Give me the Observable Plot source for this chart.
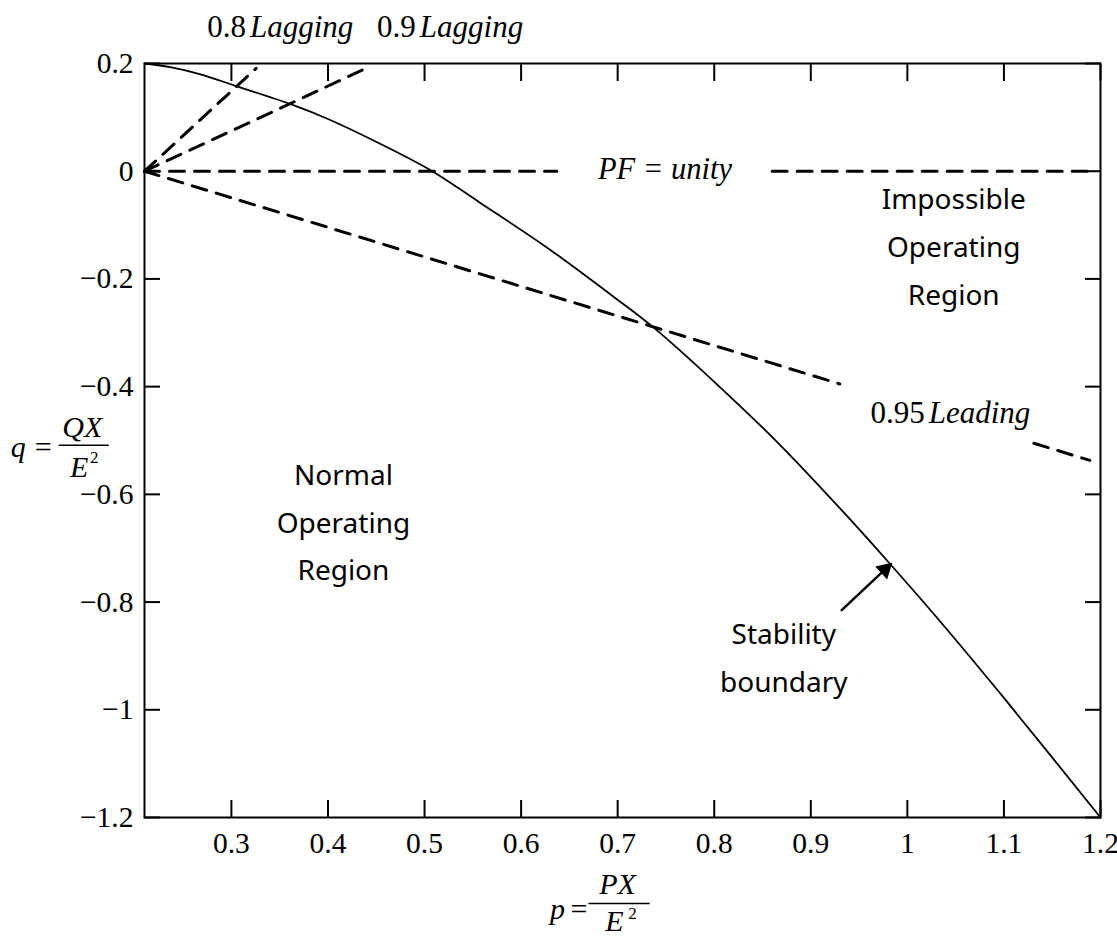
<!DOCTYPE html>
<html><head><meta charset="utf-8">
<script src="https://cdn.jsdelivr.net/npm/d3@7"></script>
<script src="https://cdn.jsdelivr.net/npm/@observablehq/plot@0.6"></script>
<style>body{margin:0;background:#fff}</style>
</head><body><div id="chart"></div>
<script>
// Stability boundary (p, q)
const boundaryP = [0.21, 0.238, 0.268, 0.305, 0.362, 0.40, 0.454, 0.508, 0.557, 0.627, 0.695, 0.737, 0.80, 0.868, 0.94, 0.981, 1.034, 1.10, 1.20];
const boundaryQ = [0.20, 0.193, 0.180, 0.158, 0.124, 0.097, 0.051, 0.000, -0.058, -0.142, -0.232, -0.290, -0.391, -0.508, -0.645, -0.727, -0.836, -0.978, -1.20];

// Power-factor lines (segments, dashed)
const lag08P = [0.21, 0.3256], lag08Q = [0, 0.191];
const lag09P = [0.21, 0.4395], lag09Q = [0, 0.191];
const unity1P = [0.21, 0.637], unity2P = [0.86, 1.19], unityQ = [0, 0];
const lead1P = [0.21, 0.930], lead1Q = [0, -0.395];
const lead2P = [1.131, 1.189], lead2Q = [-0.505, -0.537];

// Tick values
const ticksX = [0.3, 0.4, 0.5, 0.6, 0.7, 0.8, 0.9, 1.0, 1.1, 1.2];
const ticksY = [0.2, 0, -0.2, -0.4, -0.6, -0.8, -1.0, -1.2];

// Power factor labels
const pfNum = ["0.8", "0.9", "0.95"];
const pfWord = ["Lagging", "Lagging", "Leading"];
const pfLabelP = [0.315, 0.491, 1.018];
const pfLabelQ = [0.268, 0.268, -0.450];

// Region labels
const regionText = ["Normal\nOperating\nRegion", "Impossible\nOperating\nRegion", "Stability\nboundary"];
const regionP = [0.416, 1.048, 0.872];
const regionQ = [-0.643, -0.131, -0.894];

// PF = unity label
const unityText = ["PF = unity"], unityLabelP = [0.749], unityLabelQ = [0.004];

// Arrow to boundary
const arrowP = [0.932, 0.9767], arrowQ = [-0.815, -0.7396];
const arrowHeadP = [0.9767], arrowHeadQ = [-0.7396], arrowHeadRotate = [47];

// Axis titles (fraction pieces)
const yTitleText = ["q", "=", "QX", "E"], yTitleItalic = [true, false, true, true];
const yTitleP = [0.0792, 0.1051, 0.1455, 0.1424], yTitleQ = [-0.5128, -0.5128, -0.4756, -0.550];
const yFracP = [0.1217, 0.1725], yFracQ = [-0.509, -0.509];
const ySupP = [0.158], ySupQ = [-0.531];

const xTitleText = ["p", "=", "PX", "E"], xTitleItalic = [true, false, true, true];
const xTitleP = [0.6378, 0.660, 0.6998, 0.6967], xTitleQ = [-1.3710, -1.3710, -1.3246, -1.3933];
const xFracP = [0.6704, 0.7325], xFracQ = [-1.3599, -1.3599];
const xSupP = [0.7154], xSupQ = [-1.3785];

const zip = (ps, qs) => ps.map((p, i) => ({p, q: qs[i]}));
const fmt = d => { const s = String(+(+d).toFixed(1)); return s.replace("-", "\u2212"); };
const serif = "Liberation Serif, Times New Roman, serif";
const sans = "Noto Sans, Lato, sans-serif";
const dash = "15,10";

const boundary = zip(boundaryP, boundaryQ);
const pfLabels = pfNum.map((n, i) => ({num: n, word: pfWord[i], p: pfLabelP[i], q: pfLabelQ[i]}));
const regions = regionText.map((t, i) => ({t, p: regionP[i], q: regionQ[i]}));
const yTitle = yTitleText.map((t, i) => ({t, it: yTitleItalic[i], p: yTitleP[i], q: yTitleQ[i]}));
const xTitle = xTitleText.map((t, i) => ({t, it: xTitleItalic[i], p: xTitleP[i], q: xTitleQ[i]}));

const dashed = (ps, qs) => Plot.line(zip(ps, qs), {x: "p", y: "q", stroke: "black", strokeWidth: 3, strokeDasharray: dash});

const chart = Plot.plot({
  width: 1117, height: 942,
  marginLeft: 144, marginRight: 17, marginTop: 63, marginBottom: 125,
  x: {domain: [0.21, 1.2], label: null},
  y: {domain: [-1.2, 0.2], label: null},
  style: {fontFamily: serif, fontSize: "29px", background: "white", color: "black", overflow: "visible"},
  marks: [
    Plot.axisX(ticksX, {anchor: "bottom", tickSize: 0, tickPadding: 15, tickFormat: fmt, fontSize: 29.5, label: null}),
    Plot.axisX(ticksX, {anchor: "bottom", tickSize: -17, text: null, strokeWidth: 2, label: null}),
    Plot.axisX(ticksX, {anchor: "top", tickSize: -17, text: null, strokeWidth: 2, label: null}),
    Plot.axisY(ticksY, {anchor: "left", tickSize: 0, tickPadding: 11, tickFormat: fmt, fontSize: 29.5, label: null}),
    Plot.axisY(ticksY, {anchor: "left", tickSize: -16, text: null, strokeWidth: 2, label: null}),
    Plot.axisY(ticksY, {anchor: "right", tickSize: -16, text: null, strokeWidth: 2, label: null}),
    dashed(lag08P, lag08Q),
    dashed(lag09P, lag09Q),
    dashed(unity1P, unityQ),
    dashed(unity2P, unityQ),
    dashed(lead1P, lead1Q),
    dashed(lead2P, lead2Q),
    Plot.line(boundary, {x: "p", y: "q", stroke: "black", strokeWidth: 1.8, curve: "catmull-rom"}),
    Plot.line(zip(arrowP, arrowQ), {x: "p", y: "q", stroke: "black", strokeWidth: 2.5}),
    Plot.dot(arrowHeadP.map((p, i) => ({p, q: arrowHeadQ[i], r: arrowHeadRotate[i]})), {x: "p", y: "q", symbol: "triangle", r: 6.5, fill: "black", stroke: null, rotate: "r"}),
    Plot.text(pfLabels, {x: "p", y: "q", text: "num", textAnchor: "end", fontFamily: serif, fontSize: 31}),
    Plot.text(pfLabels, {x: "p", y: "q", text: "word", textAnchor: "start", dx: 4, fontFamily: serif, fontStyle: "italic", fontSize: 31}),
    Plot.text(zip(unityLabelP, unityLabelQ), {x: "p", y: "q", text: () => unityText[0], fontFamily: serif, fontStyle: "italic", fontSize: 30.5}),
    Plot.text(regions, {x: "p", y: "q", text: "t", fontFamily: sans, fontSize: 28, lineHeight: 1.7}),
    Plot.text(yTitle.filter(d => d.it), {x: "p", y: "q", text: "t", fontFamily: serif, fontStyle: "italic", fontSize: 30}),
    Plot.text(yTitle.filter(d => !d.it), {x: "p", y: "q", text: "t", fontFamily: serif, fontSize: 30}),
    Plot.line(zip(yFracP, yFracQ), {x: "p", y: "q", stroke: "black", strokeWidth: 1.5}),
    Plot.text(zip(ySupP, ySupQ), {x: "p", y: "q", text: () => "2", fontFamily: serif, fontSize: 17}),
    Plot.text(xTitle.filter(d => d.it), {x: "p", y: "q", text: "t", fontFamily: serif, fontStyle: "italic", fontSize: 30}),
    Plot.text(xTitle.filter(d => !d.it), {x: "p", y: "q", text: "t", fontFamily: serif, fontSize: 30}),
    Plot.line(zip(xFracP, xFracQ), {x: "p", y: "q", stroke: "black", strokeWidth: 1.5}),
    Plot.text(zip(xSupP, xSupQ), {x: "p", y: "q", text: () => "2", fontFamily: serif, fontSize: 17}),
    Plot.frame({stroke: "black", strokeWidth: 2})
  ]
});
document.getElementById("chart").appendChild(chart);
</script>
</body></html>
